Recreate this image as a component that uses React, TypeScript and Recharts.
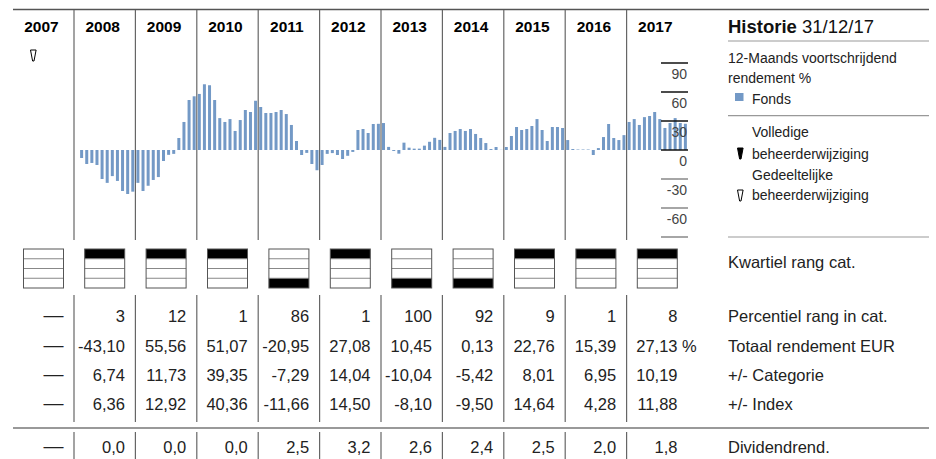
import React from 'react';
import { BarChart, Bar, XAxis, YAxis } from 'recharts';

// ---------- data ----------
const years = ['2007', '2008', '2009', '2010', '2011', '2012', '2013', '2014', '2015', '2016', '2017'];
const monthNames = ['jan', 'feb', 'mrt', 'apr', 'mei', 'jun', 'jul', 'aug', 'sep', 'okt', 'nov', 'dec'];

// 12-month rolling return % (Fonds), per month
const rolling2008 = [null, -8.3, -14.5, -13.4, -15.5, -30, -34, -27, -32, -42.4, -45.5, -43.1];
const rolling2009 = [-34, -42.4, -37, -31, -28, -11.4, -5, -4, 12.4, 29, 51.7, 55.56];
const rolling2010 = [58, 68, 67, 51.7, 33, 29, 32, 19.7, 31, 41.4, 39.3, 51.07];
const rolling2011 = [44.5, 38.3, 38.3, 39.3, 41.4, 37.2, 25.9, 9.3, -5.2, -3, -14.5, -20.95];
const rolling2012 = [-15.5, -4, -3.2, -5.2, -9.3, -6, -2, 20.7, 21.7, 17.6, 26.9, 27.08];
const rolling2013 = [27.9, 3.2, -1, -3.8, 7.6, 2.4, 1.4, 1.4, 4.5, 8.5, 12.6, 10.45];
const rolling2014 = [3.2, 17.6, 19.7, 21.7, 19.7, 21.7, 16.6, 12.4, 7.2, 1, 3.1, 0.13];
const rolling2015 = [3.1, 14.5, 23.8, 20.7, 21.7, 24.8, 32, 20.7, 9.3, 23.8, 23.8, 22.76];
const rolling2016 = [10.3, 1, 0.5, 0.5, 0.5, -5.2, 2, 13.4, 26.9, 12.4, 10.3, 15.39];
const rolling2017 = [29, 32, 25.9, 34, 35.2, 39.3, 32, 22.8, 27.9, 33, 27.9, 27.13];
const rollingByYear = [rolling2008, rolling2009, rolling2010, rolling2011, rolling2012, rolling2013, rolling2014, rolling2015, rolling2016, rolling2017];

const yTicks = [90, 60, 30, 0, -30, -60, -90];

// table rows (index 0 = 2007)
const quartiles = [null, 1, 1, 1, 4, 1, 4, 4, 1, 1, 1];
const percentile = [null, 3, 12, 1, 86, 1, 100, 92, 9, 1, 8];
const totalReturn = [null, -43.1, 55.56, 51.07, -20.95, 27.08, 10.45, 0.13, 22.76, 15.39, 27.13];
const categoryDiff = [null, 6.74, 11.73, 39.35, -7.29, 14.04, -10.04, -5.42, 8.01, 6.95, 10.19];
const indexDiff = [null, 6.36, 12.92, 40.36, -11.66, 14.5, -8.1, -9.5, 14.64, 4.28, 11.88];
const dividendYield = [null, 0.0, 0.0, 0.0, 2.5, 3.2, 2.6, 2.4, 2.5, 2.0, 1.8];

const rowLabels = ['Kwartiel rang cat.', 'Percentiel rang in cat.', 'Totaal rendement EUR', '+/- Categorie', '+/- Index', 'Dividendrend.'];
const managerChanges = [{ year: '2007', type: 'partial' }];

const chartData: { m: string; v: number | null }[] = [];
rollingByYear.forEach((arr, yi) => {
  arr.forEach((v, mi) => chartData.push({ m: `${monthNames[mi]} ${years[yi + 1]}`, v }));
});

// ---------- layout ----------
const FONT = "'Liberation Sans', Arial, sans-serif";
const BAR = '#7399c6';
const COL0 = 13;
const COL_START = 74;
const COL_W = 61.4;
const colLeft = (i: number) => (i === 0 ? COL0 : COL_START + (i - 1) * COL_W);
const colRight = (i: number) => COL_START + i * COL_W;
const colCenter = (i: number) => (colLeft(i) + colRight(i)) / 2;
const LEG_X = 728;
const AXIS_W = 30;

const fmt2 = (v: number) => v.toFixed(2).replace('.', ',');
const fmt1 = (v: number) => v.toFixed(1).replace('.', ',');

const Marker = ({ cx, cy, filled }: { cx: number; cy: number; filled: boolean }) => (
  <path
    d={`M${cx - 2.8},${cy - 5.5} L${cx + 2.8},${cy - 5.5} L${cx + 0.7},${cy + 5.5} L${cx - 0.7},${cy + 5.5} Z`}
    fill={filled ? '#000' : '#fff'}
    stroke="#000"
    strokeWidth={1}
  />
);

const AxisTick = (props: any) => {
  const { x, y, payload } = props;
  const v = payload.value;
  return (
    <g>
      <line x1={x - 27} x2={x} y1={y} y2={y} stroke={v >= 0 ? '#111' : '#888'} strokeWidth={1.5} />
      {v > -90 && (
        <text x={x - 1} y={y + 16.3} textAnchor="end" fontSize={14} fill="#444" fontFamily={FONT}>
          {v}
        </text>
      )}
    </g>
  );
};

const rowBaselines = [268, 322, 351.5, 381, 410, 453];

const NumberRow = ({ values, baseline, format, suffixLast }: any) => (
  <g>
    {values.map((v: number | null, i: number) => {
      const xr = colRight(i) - 10.5;
      if (v === null) {
        return (
          <text key={i} x={xr} y={baseline} textAnchor="end" fontSize={20} fill="#222" fontFamily={FONT}>
            —
          </text>
        );
      }
      return (
        <g key={i}>
          <text x={xr} y={baseline} textAnchor="end" fontSize={16.5} fill="#222" fontFamily={FONT}>
            {format(v)}
          </text>
          {suffixLast && i === values.length - 1 && (
            <text x={xr + 4.5} y={baseline} textAnchor="start" fontSize={16.5} fill="#222" fontFamily={FONT}>
              %
            </text>
          )}
        </g>
      );
    })}
  </g>
);

const Decorations = () => {
  const dividers = years.slice(1).map((_, i) => colLeft(i + 1));
  return (
    <svg width={936} height={459} style={{ position: 'absolute', left: 0, top: 0 }}>
      <rect x={0} y={0} width={936} height={459} fill="#fff" />
      <line x1={13} x2={929} y1={9.5} y2={9.5} stroke="#555" strokeWidth={1.5} />
      {dividers.map((x, i) => (
        <g key={i}>
          <line x1={x} x2={x} y1={10} y2={240} stroke="#666" strokeWidth={1.2} />
          <line x1={x} x2={x} y1={295} y2={422} stroke="#666" strokeWidth={1.2} />
          <line x1={x} x2={x} y1={432} y2={459} stroke="#666" strokeWidth={1.2} />
        </g>
      ))}
      {years.map((y, i) => (
        <text key={y} x={colCenter(i) - 2} y={31.5} textAnchor="middle" fontSize={15.5} fontWeight="bold" fill="#000" fontFamily={FONT}>
          {y}
        </text>
      ))}
      {managerChanges.map((mc, i) => {
        const idx = years.indexOf(mc.year);
        return <Marker key={i} cx={colLeft(idx) + 20.3} cy={55.5} filled={mc.type === 'full'} />;
      })}

      <text x={LEG_X} y={33} fontSize={18.5} fill="#111" fontFamily={FONT}>
        <tspan fontWeight="bold">Historie</tspan>
        <tspan> 31/12/17</tspan>
      </text>
      <line x1={LEG_X} x2={929} y1={41} y2={41} stroke="#999" strokeWidth={1.2} />
      <text x={LEG_X} y={63} fontSize={14} fill="#222" fontFamily={FONT}>12-Maands voortschrijdend</text>
      <text x={LEG_X} y={83} fontSize={14} fill="#222" fontFamily={FONT}>rendement %</text>
      <rect x={735} y={93} width={8.5} height={8} fill={BAR} />
      <text x={752} y={104} fontSize={14} fill="#222" fontFamily={FONT}>Fonds</text>
      <line x1={LEG_X} x2={929} y1={115.7} y2={115.7} stroke="#999" strokeWidth={1.2} />
      <text x={752} y={137} fontSize={14} fill="#222" fontFamily={FONT}>Volledige</text>
      <Marker cx={740.3} cy={153.5} filled={true} />
      <text x={752} y={158.5} fontSize={14} fill="#222" fontFamily={FONT}>beheerderwijziging</text>
      <text x={752} y={179.5} fontSize={14} fill="#222" fontFamily={FONT}>Gedeeltelijke</text>
      <Marker cx={740.3} cy={195.5} filled={false} />
      <text x={752} y={200} fontSize={14} fill="#222" fontFamily={FONT}>beheerderwijziging</text>
      <line x1={LEG_X} x2={929} y1={237} y2={237} stroke="#999" strokeWidth={1.2} />

      {quartiles.map((q, i) => {
        const bx = colCenter(i) - 20;
        const by = 249;
        const rh = 9.75;
        return (
          <g key={i}>
            {q !== null && <rect x={bx} y={by + (q - 1) * rh} width={40} height={rh} fill="#000" />}
            {[1, 2, 3].map((k) => (
              <line key={k} x1={bx} x2={bx + 40} y1={by + k * rh} y2={by + k * rh} stroke="#888" strokeWidth={1} />
            ))}
            <rect x={bx} y={by} width={40} height={rh * 4} fill="none" stroke="#555" strokeWidth={1} />
          </g>
        );
      })}

      <NumberRow values={percentile} baseline={rowBaselines[1]} format={(v: number) => String(v)} />
      <NumberRow values={totalReturn} baseline={rowBaselines[2]} format={fmt2} suffixLast />
      <NumberRow values={categoryDiff} baseline={rowBaselines[3]} format={fmt2} />
      <NumberRow values={indexDiff} baseline={rowBaselines[4]} format={fmt2} />
      <line x1={13} x2={929} y1={428} y2={428} stroke="#999" strokeWidth={2} />
      <NumberRow values={dividendYield} baseline={rowBaselines[5]} format={fmt1} />

      {rowLabels.map((l, i) => (
        <text key={l} x={LEG_X} y={rowBaselines[i]} fontSize={16.5} fill="#222" fontFamily={FONT}>
          {l}
        </text>
      ))}
    </svg>
  );
};

export default function App() {
  return (
    <div style={{ position: 'absolute', left: 0, top: 0, width: 936, height: 459, background: '#fff', overflow: 'hidden' }}>
      <Decorations />
      <div style={{ position: 'absolute', left: 0, top: 0 }}>
        <BarChart
          width={936}
          height={459}
          data={chartData}
          margin={{ top: 63, right: 248 - AXIS_W, bottom: 222, left: 74 }}
          barCategoryGap={0}
        >
          <XAxis dataKey="m" hide />
          <YAxis
            orientation="right"
            domain={[-90, 90]}
            ticks={yTicks}
            interval={0}
            width={AXIS_W}
            axisLine={false}
            tickLine={false}
            tickSize={0}
            tickMargin={0}
            tick={<AxisTick />}
            allowDataOverflow
          />
          <Bar dataKey="v" fill={BAR} barSize={3} isAnimationActive={false} />
        </BarChart>
      </div>
    </div>
  );
}
